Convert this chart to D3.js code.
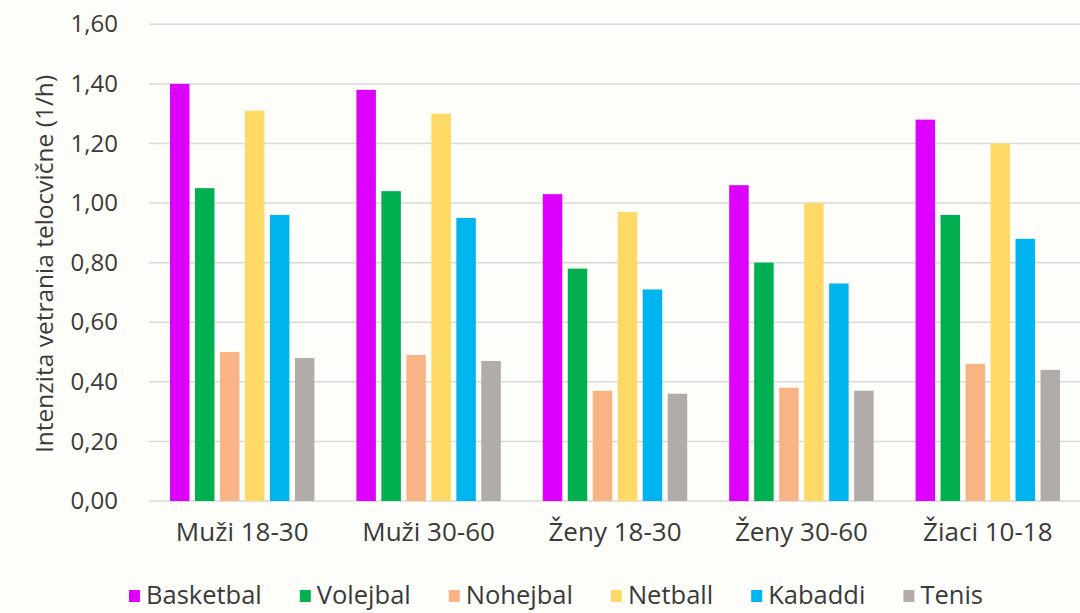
<!DOCTYPE html>
<html>
<head>
<meta charset="utf-8">
<script src="https://cdn.jsdelivr.net/npm/d3@7"></script>
<style>
  html, body { margin: 0; padding: 0; background: #fdfdf9; }
  svg { display: block; }
  text { font-family: "Open Sans", sans-serif; fill: #3a3a3a; }
</style>
</head>
<body>
<svg id="chart" width="1080" height="613"></svg>
<script>
// Ventilation intensity by population group and sport
const groups = ["Muži 18-30", "Muži 30-60", "Ženy 18-30", "Ženy 30-60", "Žiaci 10-18"];
const sports = ["Basketbal", "Volejbal", "Nohejbal", "Netball", "Kabaddi", "Tenis"];
const basketbal = [1.40, 1.38, 1.03, 1.06, 1.28];
const volejbal  = [1.05, 1.04, 0.78, 0.80, 0.96];
const nohejbal  = [0.50, 0.49, 0.37, 0.38, 0.46];
const netball   = [1.31, 1.30, 0.97, 1.00, 1.20];
const kabaddi   = [0.96, 0.95, 0.71, 0.73, 0.88];
const tenis     = [0.48, 0.47, 0.36, 0.37, 0.44];
const yTicks = [0, 0.2, 0.4, 0.6, 0.8, 1.0, 1.2, 1.4, 1.6];
const yTitle = "Intenzita vetrania telocvične (1/h)";

const seriesValues = [basketbal, volejbal, nohejbal, netball, kabaddi, tenis];
const colors = ["#dd00ff", "#00b050", "#f8b484", "#ffd966", "#00b4f0", "#b1aca9"];

const svg = d3.select("#chart");
const plot = { left: 149, right: 1081, top: 24.3, bottom: 501 };

const x0 = d3.scaleBand().domain(groups).range([plot.left, plot.right]).padding(0);
const x1 = d3.scaleBand().domain(sports).range([0, x0.bandwidth()])
  .paddingInner(0.22).paddingOuter(0.84);
const y = d3.scaleLinear().domain([0, 1.6]).range([plot.bottom, plot.top]);
const color = d3.scaleOrdinal().domain(sports).range(colors);
const fmt = v => d3.format(".2f")(v).replace(".", ",");

// horizontal gridlines
svg.append("g")
  .selectAll("line")
  .data(yTicks)
  .join("line")
  .attr("x1", plot.left).attr("x2", plot.right)
  .attr("y1", d => y(d)).attr("y2", d => y(d))
  .attr("stroke", "#d9d9d9").attr("stroke-width", 1.5);

// y axis labels
const yAxis = d3.axisLeft(y).tickValues(yTicks).tickFormat(fmt).tickSize(0).tickPadding(0);
svg.append("g")
  .attr("transform", `translate(118,0)`)
  .call(yAxis)
  .call(g => g.select(".domain").remove())
  .call(g => g.selectAll("text")
    .attr("font-size", 24).attr("fill", "#3a3a3a")
    .attr("font-family", "'Open Sans', sans-serif"));

// y axis title
svg.append("text")
  .attr("transform", `translate(53,264) rotate(-90)`)
  .attr("text-anchor", "middle")
  .attr("font-size", 24.5)
  .text(yTitle);

// bars
const rows = groups.map((g, i) => ({
  group: g,
  values: sports.map((s, j) => ({ sport: s, value: seriesValues[j][i] }))
}));

svg.append("g")
  .selectAll("g")
  .data(rows)
  .join("g")
  .attr("transform", d => `translate(${x0(d.group)},0)`)
  .selectAll("rect")
  .data(d => d.values)
  .join("rect")
  .attr("x", d => x1(d.sport))
  .attr("width", x1.bandwidth())
  .attr("y", d => y(d.value))
  .attr("height", d => y(0) - y(d.value))
  .attr("fill", d => color(d.sport));

// category labels
const xAxis = d3.axisBottom(x0).tickSize(0).tickPadding(0);
svg.append("g")
  .attr("transform", `translate(0,${plot.bottom + 22})`)
  .call(xAxis)
  .call(g => g.select(".domain").remove())
  .call(g => g.selectAll("text")
    .attr("font-size", 26).attr("fill", "#3a3a3a")
    .attr("font-family", "'Open Sans', sans-serif"));

// legend
const legend = svg.append("g").attr("transform", "translate(0,596)");
let lx = 129;
sports.forEach(s => {
  const item = legend.append("g").attr("transform", `translate(${lx},0)`);
  item.append("rect")
    .attr("x", 0).attr("y", -6).attr("width", 11).attr("height", 12)
    .attr("fill", color(s));
  const t = item.append("text")
    .attr("x", 17).attr("y", 0).attr("dy", "0.33em")
    .attr("font-size", 25.5)
    .text(s);
  lx += 17 + t.node().getComputedTextLength() + 38;
});
</script>
</body>
</html>
